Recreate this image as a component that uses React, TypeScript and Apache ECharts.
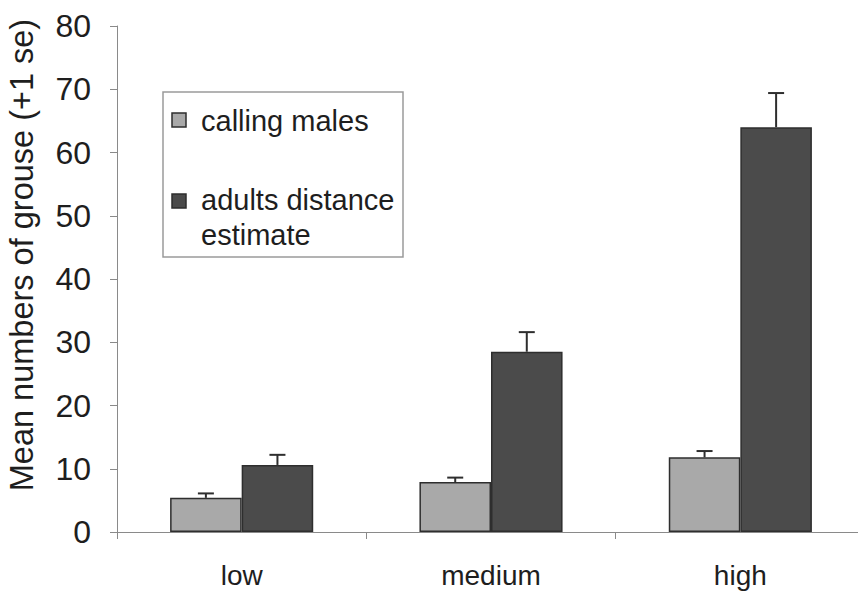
import React, { useEffect, useRef } from "react";
import * as echarts from "echarts";

// Grouse density classes
const categories = ["low", "medium", "high"];

// Mean counts per density class
const callingMales = [5.4, 7.9, 11.8];
const adultsDistance = [10.6, 28.5, 64.0];

// One standard error above each mean
const callingMalesSE = [0.7, 0.7, 1.0];
const adultsDistanceSE = [1.6, 3.1, 5.4];

const yTicks = { min: 0, max: 80, interval: 10 };

const FONT = "'Liberation Sans', Arial, Helvetica, sans-serif";
const LIGHT = "#a9a9a9";
const DARK = "#4b4b4b";
const EDGE = "#2e2e2e";
const BAR_FRACTION = 0.287;

function errorBarSeries(name: string, means: number[], se: number[], side: number) {
  return {
    type: "custom",
    name,
    silent: true,
    z: 5,
    data: means.map((m, i) => [i, m, m + se[i]]),
    renderItem: (_params: any, api: any) => {
      const idx = api.value(0);
      const base = api.coord([idx, api.value(1)]);
      const top = api.coord([idx, api.value(2)]);
      const bw = api.size([1, 0])[0] * BAR_FRACTION;
      const x = base[0] + (side * bw) / 2;
      const cap = 8;
      return {
        type: "group",
        children: [
          {
            type: "line",
            shape: { x1: x, y1: base[1], x2: x, y2: top[1] },
            style: { stroke: EDGE, lineWidth: 2 },
          },
          {
            type: "line",
            shape: { x1: x - cap, y1: top[1], x2: x + cap, y2: top[1] },
            style: { stroke: EDGE, lineWidth: 2 },
          },
        ],
      };
    },
  };
}

export default function App() {
  const ref = useRef<HTMLDivElement>(null);

  useEffect(() => {
    if (!ref.current) return;
    const chart = echarts.init(ref.current, null, { renderer: "svg" });
    chart.setOption({
      animation: false,
      backgroundColor: "#ffffff",
      textStyle: { fontFamily: FONT },
      grid: {
        left: 117,
        top: 26,
        width: 748,
        height: 506,
        containLabel: false,
        outerBoundsMode: "none",
      },
      xAxis: {
        type: "category",
        data: categories,
        axisLine: { lineStyle: { color: "#8a8a8a", width: 1 } },
        axisTick: { show: true, length: 7, lineStyle: { color: "#8a8a8a" } },
        axisLabel: { color: "#1e1e1e", fontSize: 28, margin: 29, fontFamily: FONT },
      },
      yAxis: {
        type: "value",
        min: yTicks.min,
        max: yTicks.max,
        interval: yTicks.interval,
        splitLine: { show: false },
        axisLine: { show: true, lineStyle: { color: "#8a8a8a", width: 1 } },
        axisTick: { show: true, length: 7, lineStyle: { color: "#8a8a8a" } },
        axisLabel: { color: "#1e1e1e", fontSize: 32, margin: 26, fontFamily: FONT },
      },
      series: [
        {
          type: "bar",
          name: "calling males",
          data: callingMales,
          barWidth: `${BAR_FRACTION * 100}%`,
          barGap: "0%",
          itemStyle: { color: LIGHT, borderColor: EDGE, borderWidth: 1.5 },
        },
        {
          type: "bar",
          name: "adults distance estimate",
          data: adultsDistance,
          barWidth: `${BAR_FRACTION * 100}%`,
          barGap: "0%",
          itemStyle: { color: DARK, borderColor: EDGE, borderWidth: 1.5 },
        },
        errorBarSeries("calling males se", callingMales, callingMalesSE, -1),
        errorBarSeries("adults distance se", adultsDistance, adultsDistanceSE, 1),
      ],
      graphic: [
        {
          type: "text",
          x: 22,
          y: 255,
          rotation: Math.PI / 2,
          style: {
            text: "Mean numbers of grouse (+1 se)",
            fontSize: 32.5,
            fontFamily: FONT,
            fill: "#1e1e1e",
            align: "center",
            verticalAlign: "middle",
          },
        },
        {
          type: "group",
          children: [
            {
              type: "rect",
              shape: { x: 163, y: 92, width: 240, height: 165 },
              style: { fill: "#ffffff", stroke: "#9a9a9a", lineWidth: 1.5 },
            },
            {
              type: "rect",
              shape: { x: 172, y: 113, width: 14, height: 14 },
              style: { fill: LIGHT, stroke: EDGE, lineWidth: 1.5 },
            },
            {
              type: "text",
              x: 201,
              y: 121,
              style: {
                text: "calling males",
                fontSize: 29,
                fontFamily: FONT,
                fill: "#1e1e1e",
                verticalAlign: "middle",
              },
            },
            {
              type: "rect",
              shape: { x: 172, y: 194, width: 14, height: 14 },
              style: { fill: DARK, stroke: EDGE, lineWidth: 1.5 },
            },
            {
              type: "text",
              x: 201,
              y: 200,
              style: {
                text: "adults distance",
                fontSize: 29,
                fontFamily: FONT,
                fill: "#1e1e1e",
                verticalAlign: "middle",
              },
            },
            {
              type: "text",
              x: 201,
              y: 235,
              style: {
                text: "estimate",
                fontSize: 29,
                fontFamily: FONT,
                fill: "#1e1e1e",
                verticalAlign: "middle",
              },
            },
          ],
        },
      ],
    });
    return () => chart.dispose();
  }, []);

  return (
    <div
      ref={ref}
      style={{ position: "fixed", left: 0, top: 0, width: 858, height: 597, background: "#fff" }}
    />
  );
}
